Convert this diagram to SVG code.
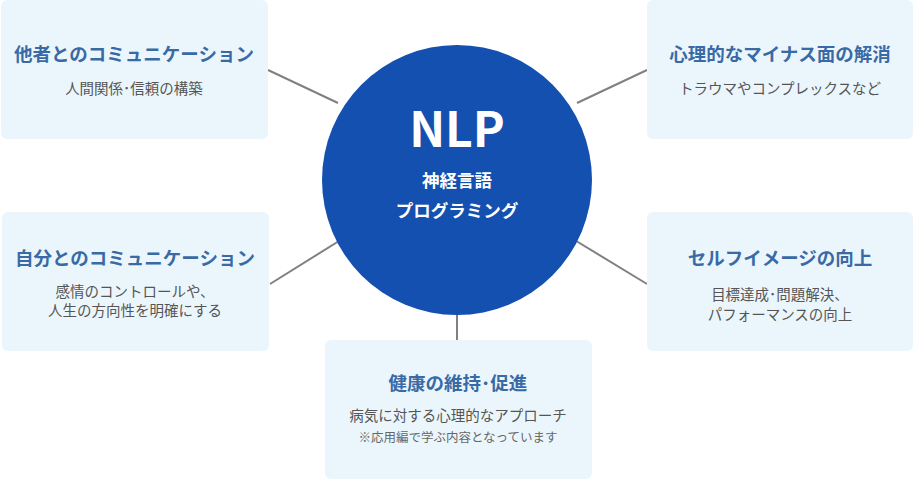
<svg xmlns="http://www.w3.org/2000/svg" width="914" height="480" viewBox="0 0 914 480">
<style>
.box{fill:#ebf6fc}
.t{font-family:"Noto Sans CJK JP",sans-serif;font-size:18.5px;font-weight:bold;fill:#3a6aa6;text-anchor:middle}
.s{font-family:"Noto Sans CJK JP",sans-serif;font-size:14.5px;fill:#555;text-anchor:middle}
.n{font-family:"Noto Sans CJK JP",sans-serif;font-size:12.5px;fill:#666;text-anchor:middle}
.c{font-family:"Noto Sans CJK JP",sans-serif;font-weight:bold;fill:#fff;text-anchor:middle}
line{stroke:#808080;stroke-width:2}
</style>
<g id="connectors">
<line x1="268" y1="70" x2="338" y2="103"/>
<line x1="270" y1="284" x2="347" y2="236"/>
<line x1="457" y1="314" x2="457" y2="340"/>
<line x1="647" y1="70" x2="577" y2="103"/>
<line x1="647" y1="284" x2="568" y2="236"/>
</g>
<g id="center">
<circle cx="457" cy="180" r="135" fill="#1450b0"/>
<text class="c" x="457" y="147" font-size="48">NLP</text>
<text class="c" x="457" y="187" font-size="17.5">神経言語</text>
<text class="c" x="457" y="217" font-size="17.5">プログラミング</text>
</g>
<g id="n1">
<rect class="box" x="1" y="0" width="267" height="139" rx="6"/>
<text class="t" x="134" y="61">他者とのコミュニケーション</text>
<text class="s" x="134" y="94">人間関係･信頼の構築</text>
</g>
<g id="n2">
<rect class="box" x="2" y="212" width="267" height="139" rx="6"/>
<text class="t" x="135" y="265">自分とのコミュニケーション</text>
<text class="s" x="135" y="297">感情のコントロールや、</text>
<text class="s" x="135" y="316">人生の方向性を明確にする</text>
</g>
<g id="n3">
<rect class="box" x="325" y="340" width="267" height="139" rx="6"/>
<text class="t" x="458" y="390">健康の維持･促進</text>
<text class="s" x="458" y="421">病気に対する心理的なアプローチ</text>
<text class="n" x="458" y="442">※応用編で学ぶ内容となっています</text>
</g>
<g id="n4">
<rect class="box" x="647" y="0" width="266" height="139" rx="6"/>
<text class="t" x="780" y="61">心理的なマイナス面の解消</text>
<text class="s" x="780" y="94">トラウマやコンプレックスなど</text>
</g>
<g id="n5">
<rect class="box" x="647" y="212" width="266" height="139" rx="6"/>
<text class="t" x="780" y="265">セルフイメージの向上</text>
<text class="s" x="780" y="300">目標達成･問題解決、</text>
<text class="s" x="780" y="320">パフォーマンスの向上</text>
</g>
</svg>
